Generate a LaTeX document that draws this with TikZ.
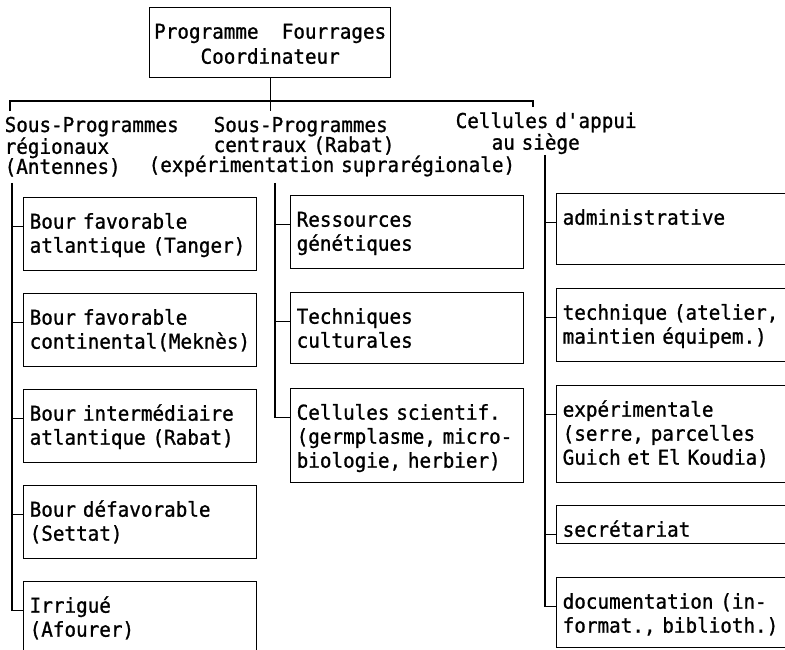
\documentclass[tikz,border=0pt]{standalone}
\usepackage{fontspec}
\setmonofont{DejaVu Sans Mono}[FakeStretch=0.94,FakeBold=1]
\usepackage{tikz}
\newcommand{\unitfont}{\ttfamily\fontsize{20.5}{24}\selectfont}
\newcommand{\headfont}{\ttfamily\fontsize{20.5}{20}\selectfont}
\newcommand{\topfont}{\ttfamily\fontsize{20.5}{25}\selectfont}
\newcommand{\cell}{\hspace*{\fontcharwd\font`x}}
\tikzset{
  unit/.style={draw, anchor=north west, inner xsep=6pt, inner ysep=0pt, text height=31pt, align=left, font=\unitfont},
  head/.style={anchor=base west, inner xsep=0pt, inner ysep=5pt, align=left, font=\headfont}
}

\begin{document}
\begin{tikzpicture}[x=1pt,y=-1pt,line width=1.4pt]
\useasboundingbox (0,0) rectangle (785,650);
\clip (0,0) rectangle (785,650);
\node (coord) at (149,7) [draw, anchor=north west, inner xsep=3.5pt, inner ysep=0pt, text width=234pt, align=center, text height=31pt, text depth=39pt, font=\topfont] {Programme\cell\cell Fourrages\\Coordinateur};
\node (reg) at (4,132) [head, text width=180pt] {Sous-Programmes\\régionaux\\(Antennes)};
\node (cen) at (148,132) [head, text width=380pt] {\hspace*{65pt}Sous-Programmes\\\hspace*{65pt}centraux (Rabat)\\(expérimentation suprarégionale)};
\node (app) at (455,128) [head, text width=200pt] {Cellules d'appui\\\hspace*{36pt}au siège};
\coordinate (busL) at (10,101);
\coordinate (busR) at (533,101);
\draw (reg.north -| busL) -- (busL) -- (busR) -- (app.north -| busR);
\draw (coord.south) -- (coord.south |- cen.north);
% regional units
\node (L1) at (23,197) [unit, text width=221pt, text depth=42pt] {Bour favorable\\atlantique (Tanger)};
\node (L2) at (23,293) [unit, text width=221pt, text depth=42pt] {Bour favorable\\continental(Meknès)};
\node (L3) at (23,389) [unit, text width=221pt, text depth=42pt] {Bour intermédiaire\\atlantique (Rabat)};
\node (L4) at (23,485) [unit, text width=221pt, text depth=42pt] {Bour défavorable\\(Settat)};
\node (L5) at (23,581) [unit, text width=221pt, text depth=49pt] {Irrigué\\(Afourer)};
% central units
\node (M1) at (290,195) [unit, text width=221pt, text depth=42pt] {Ressources\\génétiques};
\node (M2) at (290,292) [unit, text width=221pt, text depth=40pt] {Techniques\\culturales};
\node (M3) at (290,388) [unit, text width=221pt, text depth=63pt] {Cellules scientif.\\(germplasme, micro-\\biologie, herbier)};
% support cells
\node (R1) at (556,193) [unit, text width=240pt, text depth=40pt] {administrative};
\node (R2) at (556,288) [unit, text width=240pt, text depth=42pt] {technique (atelier,\\maintien équipem.)};
\node (R3) at (556,385) [unit, text width=240pt, text depth=66pt] {expérimentale\\(serre, parcelles\\Guich et El Koudia)};
\node (R4) at (556,505) [unit, text width=240pt, text depth=7pt] {secrétariat};
\node (R5) at (556,577) [unit, text width=240pt, text depth=39pt] {documentation (in-\\format., biblioth.)};
\coordinate (regV) at (12,183);
\coordinate (cenV) at (275,183);
\coordinate (appV) at (545,155);
\draw (regV) -- (regV |- L5.mid west) -- (L5.mid west);
\draw (regV |- L1.mid west) -- (L1.mid west);
\draw (regV |- L2.mid west) -- (L2.mid west);
\draw (regV |- L3.mid west) -- (L3.mid west);
\draw (regV |- L4.mid west) -- (L4.mid west);
\draw (cenV) -- (cenV |- M3.mid west) -- (M3.mid west);
\draw (cenV |- M1.mid west) -- (M1.mid west);
\draw (cenV |- M2.mid west) -- (M2.mid west);
\draw (appV) -- (appV |- R5.mid west) -- (R5.mid west);
\draw (appV |- R1.mid west) -- (R1.mid west);
\draw (appV |- R2.mid west) -- (R2.mid west);
\draw (appV |- R3.mid west) -- (R3.mid west);
\draw (appV |- R4.mid west) -- (R4.mid west);
\end{tikzpicture}
\end{document}
